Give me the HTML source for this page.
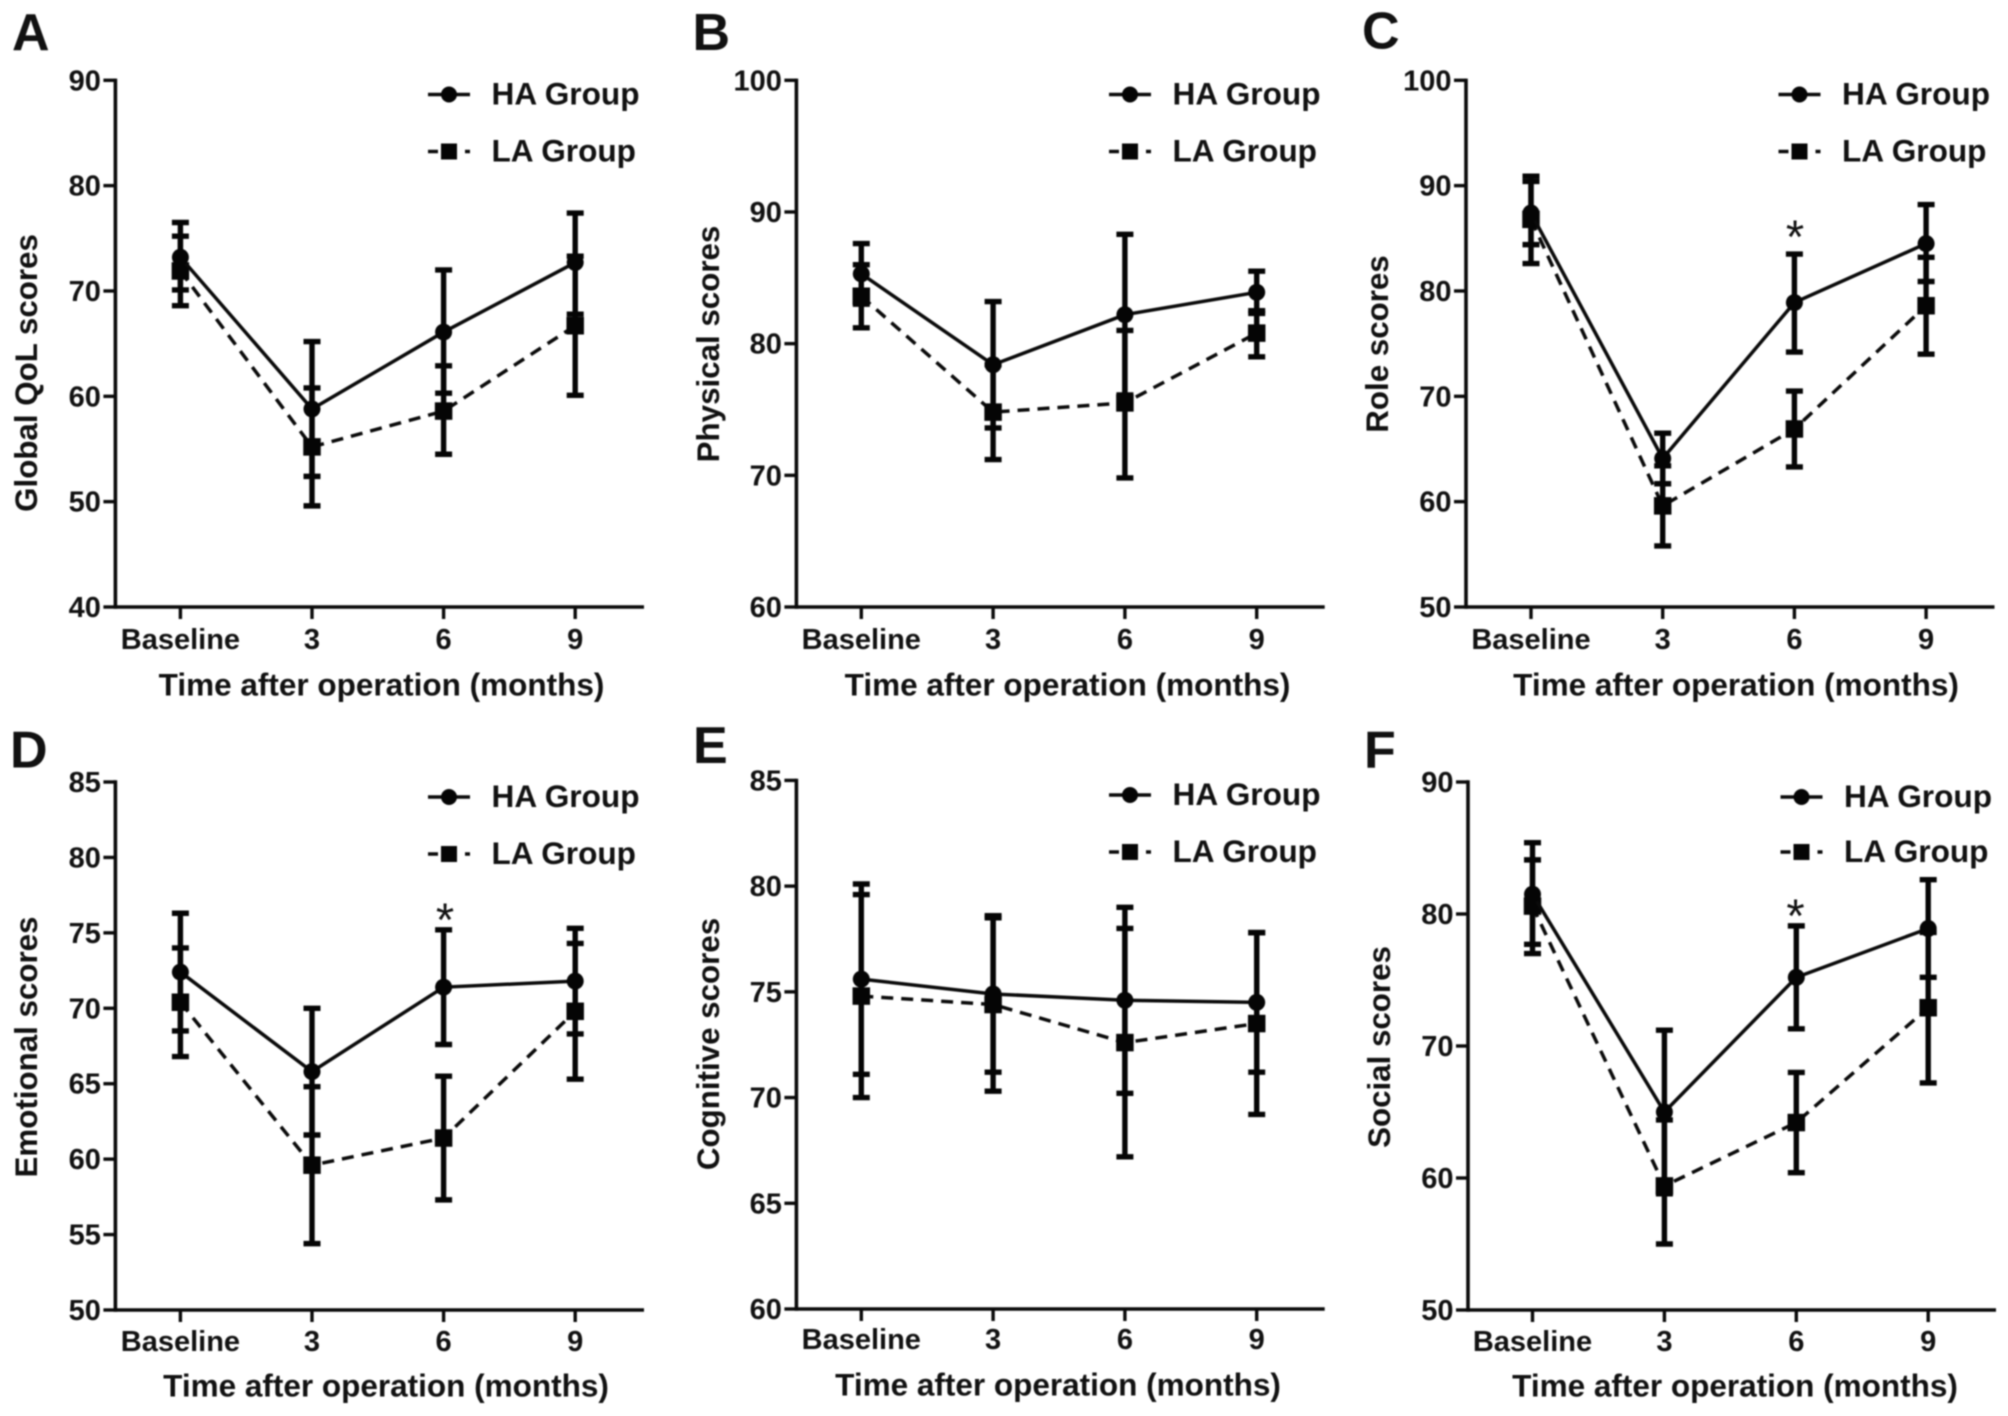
<!DOCTYPE html>
<html lang="en">
<head>
<meta charset="utf-8">
<title>Quality of life scores after operation</title>
<style>
html,body{margin:0;padding:0;background:#fff;}
#figure{display:block;width:2008px;height:1416px;filter:blur(0.7px);}
text{font-family:"Liberation Sans",Arial,sans-serif;font-weight:700;fill:#111;}
</style>
</head>
<body>
<svg id="figure" xmlns="http://www.w3.org/2000/svg" width="2008" height="1416" viewBox="0 0 2008 1416"></svg>
<script>
const categories = ['Baseline', '3', '6', '9'];

const aTicks = [40, 50, 60, 70, 80, 90];
const aHa = [73.2, 58.8, 66.1, 72.7];
const aHaUpper = [76.5, 65.2, 72.0, 77.4];
const aHaLower = [70.1, 52.4, 60.3, 67.8];
const aLa = [71.9, 55.2, 58.6, 66.7];
const aLaUpper = [75.2, 60.8, 62.9, 73.3];
const aLaLower = [68.6, 49.6, 54.5, 60.1];

const bTicks = [60, 70, 80, 90, 100];
const bHa = [85.3, 78.4, 82.2, 83.9];
const bHaUpper = [87.6, 83.2, 88.3, 85.5];
const bHaLower = [83.0, 73.6, 76.1, 82.3];
const bLa = [83.6, 74.8, 75.5, 80.8];
const bLaUpper = [86.0, 78.4, 81.0, 82.5];
const bLaLower = [81.2, 71.2, 69.8, 79.0];

const cTicks = [50, 60, 70, 80, 90, 100];
const cHa = [87.4, 64.1, 78.9, 84.5];
const cHaUpper = [90.4, 66.5, 83.5, 88.2];
const cHaLower = [84.4, 61.7, 74.2, 80.9];
const cLa = [86.8, 59.6, 66.9, 78.6];
const cLaUpper = [90.9, 63.4, 70.5, 83.2];
const cLaLower = [82.6, 55.8, 63.3, 74.0];

const dTicks = [50, 55, 60, 65, 70, 75, 80, 85];
const dHa = [72.4, 65.8, 71.4, 71.8];
const dHaUpper = [76.3, 70.0, 75.2, 75.3];
const dHaLower = [68.5, 61.6, 67.6, 68.3];
const dLa = [70.4, 59.6, 61.4, 69.8];
const dLaUpper = [74.0, 64.8, 65.5, 74.3];
const dLaLower = [66.8, 54.4, 57.3, 65.3];

const eTicks = [60, 65, 70, 75, 80, 85];
const eHa = [75.6, 74.9, 74.6, 74.5];
const eHaUpper = [80.1, 78.6, 79.0, 77.8];
const eHaLower = [71.1, 71.2, 70.2, 71.2];
const eLa = [74.8, 74.4, 72.6, 73.5];
const eLaUpper = [79.6, 78.5, 78.0, 77.8];
const eLaLower = [70.0, 70.3, 67.2, 69.2];

const fTicks = [50, 60, 70, 80, 90];
const fHa = [81.5, 65.0, 75.2, 78.9];
const fHaUpper = [85.4, 71.2, 79.1, 82.6];
const fHaLower = [77.7, 58.8, 71.3, 75.2];
const fLa = [80.6, 59.4, 64.2, 72.9];
const fLaUpper = [84.1, 64.4, 68.0, 78.6];
const fLaLower = [77.0, 55.0, 60.4, 67.2];

const SVG_NS = 'http://www.w3.org/2000/svg';
const figure = document.getElementById('figure');

function make(parent, tag, attrs, content) {
  const el = document.createElementNS(SVG_NS, tag);
  for (const key in attrs) el.setAttribute(key, attrs[key]);
  if (content !== undefined) el.textContent = content;
  parent.appendChild(el);
  return el;
}

function drawMarker(parent, kind, cx, cy, size) {
  if (kind === 'circle') {
    return make(parent, 'circle', {cx: cx, cy: cy, r: size / 2, fill: '#050505'});
  }
  return make(parent, 'rect', {x: cx - size / 2, y: cy - size / 2, width: size, height: size, fill: '#050505'});
}

function drawSeries(panel, group, label, kind, dash, values, uppers, lowers, xAt, yAt) {
  const series = make(group, 'g', {});
  
  

  const pts = values.map(function (v, i) { return xAt(i) + ',' + yAt(v); }).join(' ');
  const line = make(series, 'polyline', {points: pts, fill: 'none', stroke: '#0a0a0a', 'stroke-width': 3.5, 'stroke-dasharray': dash});
  
  

  values.forEach(function (v, i) {
    const x = xAt(i);
    const bar = make(series, 'path', {
      d: 'M' + (x - 8.5) + ' ' + yAt(uppers[i]) + 'H' + (x + 8.5) +
         'M' + x + ' ' + yAt(uppers[i]) + 'V' + yAt(lowers[i]) +
         'M' + (x - 8.5) + ' ' + yAt(lowers[i]) + 'H' + (x + 8.5),
      fill: 'none', stroke: '#050505', 'stroke-width': 5.4
    });
    
    

    const marker = drawMarker(series, kind, x, yAt(v), kind === 'circle' ? 17 : 17.5);
    
    
  });
}

function drawLegendEntry(group, label, kind, dash, p, cy) {
  const entry = make(group, 'g', {});
  
  
  make(entry, 'line', {x1: p.legendX - 21, x2: p.legendX + 21, y1: cy, y2: cy, stroke: '#0a0a0a', 'stroke-width': 3.6, 'stroke-dasharray': dash});
  drawMarker(entry, kind, p.legendX, cy, 16);
  make(entry, 'text', {x: p.legendX + 42.5, y: cy + 10, 'font-size': 31.6}, label);
}

function drawPanel(p) {
  const panel = make(figure, 'g', {});
  
  

  const tMin = p.ticks[0];
  const tMax = p.ticks[p.ticks.length - 1];
  const yAt = function (v) { return p.bottom - (v - tMin) / (tMax - tMin) * (p.bottom - p.top); };
  const xAt = function (i) { return p.firstX + i * p.stepX; };

  const letter = make(panel, 'text', {x: p.letterX, y: p.letterY, 'font-size': 52}, p.letter);
  
  

  const yAxis = make(panel, 'g', {});
  
  
  make(yAxis, 'line', {x1: p.left, x2: p.left, y1: p.top - 1.7, y2: p.bottom + 1.7, stroke: '#0a0a0a', 'stroke-width': 3.6});
  p.ticks.forEach(function (t) {
    make(yAxis, 'line', {x1: p.left - 12, x2: p.left, y1: yAt(t), y2: yAt(t), stroke: '#0a0a0a', 'stroke-width': 3.4});
    const tickLabel = make(yAxis, 'text', {x: p.left - 14.5, y: yAt(t) + 10, 'text-anchor': 'end', 'font-size': 29}, String(t));
    
    
  });

  const yTitle = make(panel, 'text', {
    x: 0, y: 0, 'text-anchor': 'middle', 'font-size': 31.3,
    transform: 'translate(' + p.yTitleX + ' ' + p.yTitleY + ') rotate(-90)'
  }, p.yTitle);
  
  

  const xAxis = make(panel, 'g', {});
  
  
  make(xAxis, 'line', {x1: p.left, x2: p.right, y1: p.bottom, y2: p.bottom, stroke: '#0a0a0a', 'stroke-width': 3.6});
  categories.forEach(function (c, i) {
    make(xAxis, 'line', {x1: xAt(i), x2: xAt(i), y1: p.bottom, y2: p.bottom + 12, stroke: '#0a0a0a', 'stroke-width': 3.4});
    const catLabel = make(xAxis, 'text', {x: xAt(i), y: p.catY, 'text-anchor': 'middle', 'font-size': 29}, c);
    
    
  });

  const xTitle = make(panel, 'text', {x: p.xTitleX, y: p.xTitleY, 'text-anchor': 'middle', 'font-size': 31.5}, 'Time after operation (months)');
  
  

  const plot = make(panel, 'g', {});
  
  
  drawSeries(panel, plot, 'la-group', 'square', '12 8', p.la, p.laUpper, p.laLower, xAt, yAt);
  drawSeries(panel, plot, 'ha-group', 'circle', 'none', p.ha, p.haUpper, p.haLower, xAt, yAt);

  const legend = make(panel, 'g', {});
  
  
  drawLegendEntry(legend, 'HA Group', 'circle', 'none', p, p.legendY1);
  drawLegendEntry(legend, 'LA Group', 'square', '10 27 5', p, p.legendY2);

  if (p.starX !== undefined) {
    const star = make(panel, 'text', {x: p.starX, y: p.starY, 'text-anchor': 'middle', 'font-size': 47, style: 'font-weight:400'}, '*');
    
    
  }
}

drawPanel({
  letter: 'A', yTitle: 'Global QoL scores', ticks: aTicks,
  ha: aHa, haUpper: aHaUpper, haLower: aHaLower, la: aLa, laUpper: aLaUpper, laLower: aLaLower,
  left: 115.4, right: 644, top: 80.3, bottom: 607, firstX: 180.4, stepX: 131.6,
  letterX: 12, letterY: 50, yTitleX: 37, yTitleY: 373, xTitleX: 381.5, xTitleY: 695.5, catY: 649,
  legendX: 449, legendY1: 94.5, legendY2: 151.5
});
drawPanel({
  letter: 'B', yTitle: 'Physical scores', ticks: bTicks,
  ha: bHa, haUpper: bHaUpper, haLower: bHaLower, la: bLa, laUpper: bLaUpper, laLower: bLaLower,
  left: 796.4, right: 1324.7, top: 80.3, bottom: 607, firstX: 861.3, stepX: 131.8,
  letterX: 692.5, letterY: 50, yTitleX: 719, yTitleY: 344, xTitleX: 1067.5, xTitleY: 695.5, catY: 649,
  legendX: 1130, legendY1: 94.5, legendY2: 151.5
});
drawPanel({
  letter: 'C', yTitle: 'Role scores', ticks: cTicks,
  ha: cHa, haUpper: cHaUpper, haLower: cHaLower, la: cLa, laUpper: cLaUpper, laLower: cLaLower,
  left: 1466, right: 1994.5, top: 80.3, bottom: 607, firstX: 1531, stepX: 131.7,
  letterX: 1362, letterY: 48.5, yTitleX: 1388, yTitleY: 344, xTitleX: 1736, xTitleY: 695.5, catY: 649,
  legendX: 1799.5, legendY1: 94.5, legendY2: 151.5,
  starX: 1795, starY: 253
});
drawPanel({
  letter: 'D', yTitle: 'Emotional scores', ticks: dTicks,
  ha: dHa, haUpper: dHaUpper, haLower: dHaLower, la: dLa, laUpper: dLaUpper, laLower: dLaLower,
  left: 115.4, right: 644, top: 782, bottom: 1310, firstX: 180.4, stepX: 131.6,
  letterX: 10, letterY: 767.5, yTitleX: 37, yTitleY: 1047, xTitleX: 386, xTitleY: 1396.5, catY: 1351,
  legendX: 449, legendY1: 797, legendY2: 854,
  starX: 445, starY: 936
});
drawPanel({
  letter: 'E', yTitle: 'Cognitive scores', ticks: eTicks,
  ha: eHa, haUpper: eHaUpper, haLower: eHaLower, la: eLa, laUpper: eLaUpper, laLower: eLaLower,
  left: 796.4, right: 1324.7, top: 780.4, bottom: 1309, firstX: 861.3, stepX: 131.8,
  letterX: 693, letterY: 763, yTitleX: 719, yTitleY: 1044, xTitleX: 1058, xTitleY: 1395.5, catY: 1349,
  legendX: 1130, legendY1: 795, legendY2: 852
});
drawPanel({
  letter: 'F', yTitle: 'Social scores', ticks: fTicks,
  ha: fHa, haUpper: fHaUpper, haLower: fHaLower, la: fLa, laUpper: fLaUpper, laLower: fLaLower,
  left: 1468, right: 1996, top: 782, bottom: 1310, firstX: 1532.5, stepX: 131.9,
  letterX: 1364, letterY: 767.5, yTitleX: 1390, yTitleY: 1047, xTitleX: 1735, xTitleY: 1396.5, catY: 1351,
  legendX: 1801.5, legendY1: 797, legendY2: 852,
  starX: 1795.5, starY: 932
});
</script>
</body>
</html>
